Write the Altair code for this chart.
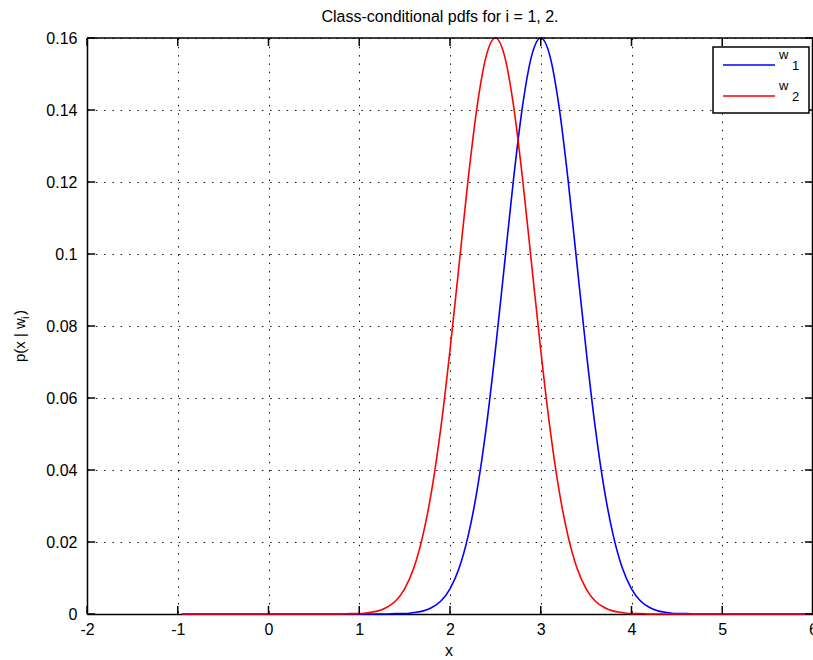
import altair as alt
import pandas as pd

FONT = "Liberation Sans"

# Axis ticks
x_ticks = [-2, -1, 0, 1, 2, 3, 4, 5, 6]
y_ticks = [0, 0.02, 0.04, 0.06, 0.08, 0.10, 0.12, 0.14, 0.16]

# Class-conditional densities p(x | w1) and p(x | w2)
x_w1 = [-0.95, 1.3, 1.4, 1.5, 1.6, 1.7, 1.8, 1.9, 2.0, 2.1, 2.2, 2.3, 2.4, 2.5,
        2.6, 2.7, 2.8, 2.9, 3.0, 3.1, 3.2, 3.3, 3.4, 3.5, 3.6, 3.7, 3.8, 3.9,
        4.0, 4.1, 4.2, 4.3, 4.4, 4.5, 4.6, 4.7, 6.0]
p_w1 = [0.0, 0.0, 0.0001, 0.0001, 0.0004, 0.0008, 0.0018, 0.0036, 0.0070,
        0.0127, 0.0217, 0.0346, 0.0519, 0.0733, 0.0970, 0.1208, 0.1412, 0.1551,
        0.1600, 0.1551, 0.1412, 0.1208, 0.0970, 0.0733, 0.0519, 0.0346, 0.0217,
        0.0127, 0.0070, 0.0036, 0.0018, 0.0008, 0.0004, 0.0001, 0.0001, 0.0, 0.0]

x_w2 = [-0.95, 0.8, 0.9, 1.0, 1.1, 1.2, 1.3, 1.4, 1.5, 1.6, 1.7, 1.8, 1.9, 2.0,
        2.1, 2.2, 2.3, 2.4, 2.5, 2.6, 2.7, 2.8, 2.9, 3.0, 3.1, 3.2, 3.3, 3.4,
        3.5, 3.6, 3.7, 3.8, 3.9, 4.0, 4.1, 4.2, 6.0]
p_w2 = [0.0, 0.0, 0.0001, 0.0001, 0.0004, 0.0008, 0.0018, 0.0036, 0.0070,
        0.0127, 0.0217, 0.0346, 0.0519, 0.0733, 0.0970, 0.1208, 0.1412, 0.1551,
        0.1600, 0.1551, 0.1412, 0.1208, 0.0970, 0.0733, 0.0519, 0.0346, 0.0217,
        0.0127, 0.0070, 0.0036, 0.0018, 0.0008, 0.0004, 0.0001, 0.0001, 0.0, 0.0]

classes = ["w1", "w2"]
class_colors = ["#0000ff", "#ff0000"]
legend_subs = ["1", "2"]

W, H = 726, 576

curves = pd.DataFrame({
    "x": x_w1 + x_w2,
    "p": p_w1 + p_w2,
    "cls": [classes[0]] * len(x_w1) + [classes[1]] * len(x_w2),
})

xs = alt.Scale(domain=[-2, 6], nice=False, zero=False)
ys = alt.Scale(domain=[0, 0.16], nice=False, zero=False)

common_axis = dict(
    grid=True, gridDash=[1.5, 6.8], gridColor="#111111", gridWidth=1,
    ticks=False, domainColor="black", domainWidth=1.5,
    labelFont=FONT, labelFontSize=16, labelColor="black", title=None,
    labelFlush=False, zindex=0,
)
x_axis = alt.Axis(values=x_ticks, labelExpr="'' + datum.value", labelPadding=7, **common_axis)
y_axis = alt.Axis(values=y_ticks, format=".2~f", labelPadding=10, **common_axis)

lines = alt.Chart(curves).mark_line(strokeWidth=1.6, interpolate="monotone").encode(
    x=alt.X("x:Q", scale=xs, axis=x_axis),
    y=alt.Y("p:Q", scale=ys, axis=y_axis),
    color=alt.Color("cls:N", scale=alt.Scale(domain=classes, range=class_colors), legend=None),
)

# Inward-pointing tick marks on all four sides, plus the top/right frame
tx = pd.DataFrame({"x": x_ticks})
ty = pd.DataFrame({"p": y_ticks})
one = pd.DataFrame({"a": [0]})
tick_style = dict(color="black", strokeWidth=1.5)
ticks_bottom = alt.Chart(tx).mark_rule(**tick_style).encode(
    x=alt.X("x:Q", scale=xs, axis=x_axis), y=alt.value(H), y2=alt.value(H - 8))
ticks_top = alt.Chart(tx).mark_rule(**tick_style).encode(
    x=alt.X("x:Q", scale=xs, axis=x_axis), y=alt.value(0), y2=alt.value(8))
ticks_left = alt.Chart(ty).mark_rule(**tick_style).encode(
    y=alt.Y("p:Q", scale=ys, axis=y_axis), x=alt.value(0), x2=alt.value(8))
ticks_right = alt.Chart(ty).mark_rule(**tick_style).encode(
    y=alt.Y("p:Q", scale=ys, axis=y_axis), x=alt.value(W - 8), x2=alt.value(W))
frame_top = alt.Chart(one).mark_rule(**tick_style).encode(
    x=alt.value(0), x2=alt.value(W), y=alt.value(0))
frame_right = alt.Chart(one).mark_rule(**tick_style).encode(
    x=alt.value(W - 0.5), y=alt.value(0), y2=alt.value(H))

# Legend box
legend_box = alt.Chart(one).mark_rect(fill="white", stroke="black", strokeWidth=1.5).encode(
    x=alt.value(626), x2=alt.value(722), y=alt.value(9), y2=alt.value(75))
legend_layers = [legend_box]
for i, (col, sub) in enumerate(zip(class_colors, legend_subs)):
    dy = i * 31
    legend_layers.append(alt.Chart(one).mark_rule(color=col, strokeWidth=1.5).encode(
        x=alt.value(636), x2=alt.value(688), y=alt.value(27 + dy)))
    legend_layers.append(alt.Chart(one).mark_text(
        font=FONT, fontSize=13, align="left", baseline="alphabetic", color="black").encode(
        x=alt.value(692), y=alt.value(21 + dy), text=alt.value("w")))
    legend_layers.append(alt.Chart(one).mark_text(
        font=FONT, fontSize=13, align="left", baseline="alphabetic", color="black").encode(
        x=alt.value(705), y=alt.value(32 + dy), text=alt.value(sub)))

# Title and axis labels
title = alt.Chart(one).mark_text(font=FONT, fontSize=16, align="center",
                                 baseline="alphabetic", color="black").encode(
    x=alt.value(353), y=alt.value(-16), text=alt.value("Class-conditional pdfs for i = 1, 2."))
xlabel = alt.Chart(one).mark_text(font=FONT, fontSize=16, align="center",
                                  baseline="middle", color="black").encode(
    x=alt.value(362), y=alt.value(613), text=alt.value("x"))
ylab_style = dict(font=FONT, angle=270, align="left", baseline="alphabetic", color="black")
ylabel_main = alt.Chart(one).mark_text(fontSize=15, **ylab_style).encode(
    x=alt.value(-62), y=alt.value(324), text=alt.value("p(x | w"))
ylabel_sub = alt.Chart(one).mark_text(fontSize=11, **ylab_style).encode(
    x=alt.value(-58), y=alt.value(281), text=alt.value("i"))
ylabel_close = alt.Chart(one).mark_text(fontSize=15, **ylab_style).encode(
    x=alt.value(-62), y=alt.value(277), text=alt.value(")"))

chart = alt.layer(
    lines, ticks_bottom, ticks_top, ticks_left, ticks_right, frame_top, frame_right,
    *legend_layers, title, xlabel, ylabel_main, ylabel_sub, ylabel_close,
).properties(
    width=W, height=H,
    padding={"left": 87, "top": 38, "right": 0, "bottom": 46},
    autosize=alt.AutoSizeParams(type="none"),
).configure_view(strokeWidth=0)

chart.save("out.html", embed_options={"renderer": "svg", "actions": False})
